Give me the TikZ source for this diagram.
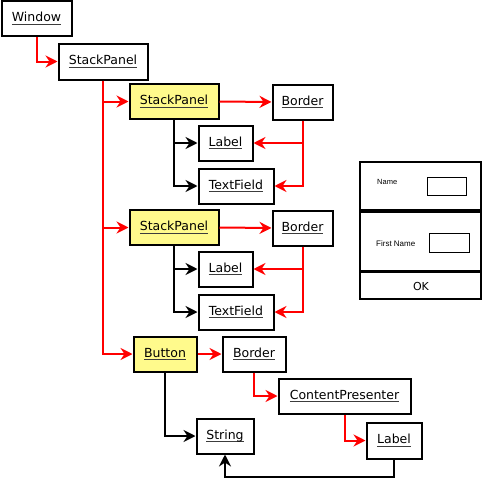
\documentclass[tikz,border=0pt]{standalone}
\usepackage{fontspec}
\setmainfont{DejaVu Sans}
\newfontfamily\mockfont{Liberation Sans}
\usetikzlibrary{arrows.meta}
\definecolor{hl}{RGB}{255,250,140}
\definecolor{ulgray}{RGB}{60,60,60}
\newcommand{\ulx}[1]{\setbox0\hbox{#1}\rlap{\textcolor{ulgray}{\rule[-2.8pt]{\wd0}{1pt}}}\box0}
\begin{document}
\begin{tikzpicture}[x=1pt,y=-1pt,
  box/.style={draw, line width=2pt, inner sep=0pt, fill=white, font=\fontsize{12.5}{14}\selectfont},
  hlbox/.style={box, fill=hl},
  tip/.style={-{Stealth[length=12pt,width=12pt,inset=4pt]}},
  redc/.style={draw=red, line width=2pt, tip},
  blkc/.style={draw=black, line width=2pt, tip},
  panel/.style={draw, line width=1.5pt},
  field/.style={draw, line width=1.5pt, inner sep=0pt}]
\useasboundingbox (0,0) rectangle (482,479);
% tree nodes
\node[box, minimum width=70pt, minimum height=35pt] (win) at (36.5,18.5) {\ulx{Window}};
\node[box, minimum width=89pt, minimum height=36pt] (sp0) at (103,61.5) {\ulx{StackPanel}};
\node[hlbox, minimum width=89pt, minimum height=35pt] (sp1) at (174,101.5) {\ulx{StackPanel}};
\node[box, minimum width=60pt, minimum height=35pt] (b1) at (302.5,102) {\ulx{Border}};
\node[box, minimum width=54pt, minimum height=35pt] (l1) at (225.5,143) {\ulx{Label}};
\node[box, minimum width=75pt, minimum height=35pt] (t1) at (236,186) {\ulx{TextField}};
\node[hlbox, minimum width=89pt, minimum height=35pt] (sp2) at (174,227.5) {\ulx{StackPanel}};
\node[box, minimum width=60pt, minimum height=35pt] (b2) at (302.5,228) {\ulx{Border}};
\node[box, minimum width=54pt, minimum height=35pt] (l2) at (225.5,269) {\ulx{Label}};
\node[box, minimum width=75pt, minimum height=35pt] (t2) at (236,312) {\ulx{TextField}};
\node[hlbox, minimum width=63pt, minimum height=35pt] (btn) at (165,354) {\ulx{Button}};
\node[box, minimum width=63pt, minimum height=35pt] (b3) at (254,354) {\ulx{Border}};
\node[box, minimum width=132pt, minimum height=35pt] (cp) at (344.5,396) {\ulx{ContentPresenter}};
\node[box, minimum width=55pt, minimum height=36pt] (l3) at (394,440.5) {\ulx{Label}};
\node[box, minimum width=57pt, minimum height=35pt] (str) at (225,436) {\ulx{String}};
\coordinate (bot) at (0,477);
% connectors
\draw[redc] (win.south) |- (sp0.west);
\draw[redc] (sp0.south) |- (sp1.west);
\draw[redc] (sp0.south) |- (sp2.west);
\draw[redc] (sp0.south) |- (btn.west);
\draw[redc] (sp1.east) -- (b1.west);
\draw[redc] (sp2.east) -- (b2.west);
\draw[blkc] (sp1.south) |- (l1.west);
\draw[blkc] (sp1.south) |- (t1.west);
\draw[blkc] (sp2.south) |- (l2.west);
\draw[blkc] (sp2.south) |- (t2.west);
\draw[redc] (b1.south) |- (l1.east);
\draw[redc] (b1.south) |- (t1.east);
\draw[redc] (b2.south) |- (l2.east);
\draw[redc] (b2.south) |- (t2.east);
\draw[redc] (btn.east) -- (b3.west);
\draw[blkc] (btn.south) |- (str.west);
\draw[redc] (b3.south) |- (cp.west);
\draw[redc] (cp.south) |- (l3.west);
\draw[blkc] (l3.south) -- (l3.south |- bot) -| (str.south);
% window mockup
\draw[panel] (360,162) rectangle (481,210);
\draw[panel] (360,212) rectangle (481,271);
\draw[panel] (360,272.5) rectangle (481,299);
\node[anchor=west, inner sep=0pt, font=\mockfont\fontsize{7.5}{9}\selectfont] (nm) at (377,181.5) {Name};
\node[field, minimum width=39pt, minimum height=18pt] (nmf) at (447,186.5) {};
\node[anchor=west, inner sep=0pt, font=\mockfont\fontsize{8}{9}\selectfont] (fn) at (376,243.5) {First Name};
\node[field, minimum width=40pt, minimum height=19pt] (fnf) at (449.5,243) {};
\node[inner sep=0pt, font=\fontsize{11}{13}\selectfont] (ok) at (421,286) {OK};
\end{tikzpicture}
\end{document}
